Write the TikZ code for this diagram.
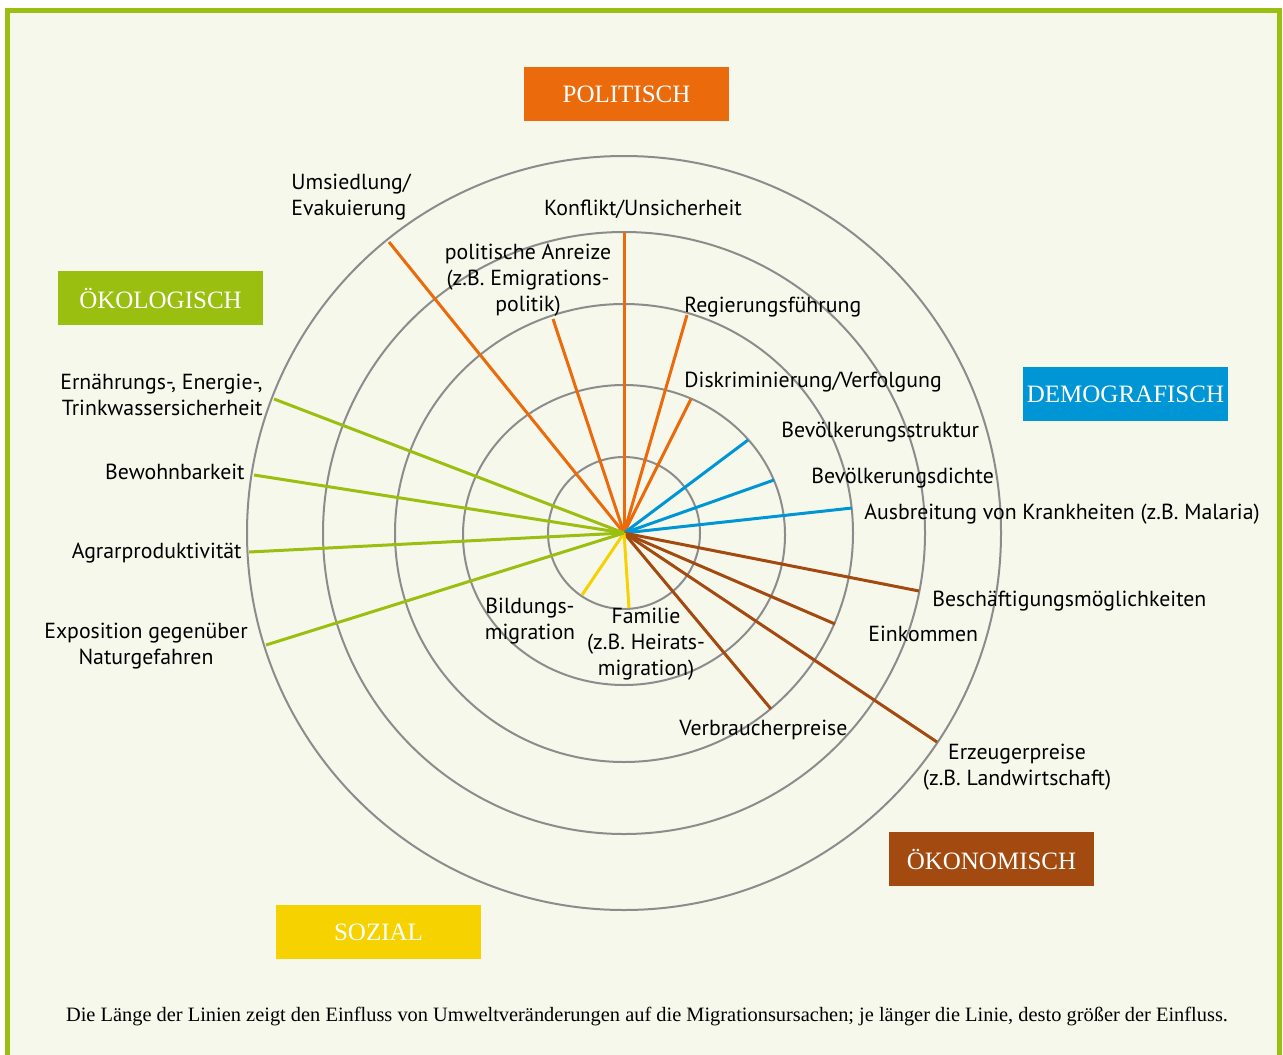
\documentclass[tikz,border=0pt]{standalone}
\usepackage{fontspec}
\setmainfont{Liberation Serif}
\newfontfamily\lblfont{PT Sans}

\definecolor{polcol}{HTML}{EA6A0C}
\definecolor{demcol}{HTML}{0096D6}
\definecolor{ekocol}{HTML}{A24A10}
\definecolor{sozcol}{HTML}{F6D200}
\definecolor{ecocol}{HTML}{9ABF10}
\definecolor{bgcol}{HTML}{F7F8EC}
\definecolor{ringcol}{HTML}{8C8C8C}

\tikzset{
  ring/.style={draw=ringcol, line width=1pt},
  spoke/.style={line width=1.5pt},
  lbl/.style={font=\lblfont\fontsize{10.9}{13}\selectfont, inner sep=0pt},
  catbox/.style={fill=#1, text=white, minimum width=102.5pt, minimum height=27pt,
    inner sep=0pt, font=\fontsize{12.5}{14}\selectfont},
}

\begin{document}
\begin{tikzpicture}[x=0.5pt, y=-0.5pt]
  \useasboundingbox (0,0) rectangle (1283,1054);
  \clip (0,0) rectangle (1283,1054);
  \fill[white] (0,0) rectangle (1283,1054);
  \filldraw[fill=bgcol, draw=ecocol, line width=2.5pt] (7.5,10.5) rectangle (1279.5,1100);

  % rings
  \coordinate (c) at (624,533);
  \draw[ring] (c) circle[radius=76];
  \draw[ring] (624,535) ellipse[x radius=161, y radius=150];
  \draw[ring] (c) circle[radius=229];
  \draw[ring] (c) circle[radius=301];
  \draw[ring] (c) circle[radius=377];

  % categories
  \draw (626.5,94)  node[catbox=polcol] (pol) {POLITISCH};
  \draw (160.5,298) node[catbox=ecocol] (eco) {ÖKOLOGISCH};
  \draw (1125.5,394) node[catbox=demcol] (dem) {DEMOGRAFISCH};
  \draw (991.5,859) node[catbox=ekocol] (eko) {ÖKONOMISCH};
  \draw (378.5,932) node[catbox=sozcol] (soz) {SOZIAL};

  % line ends
  \coordinate (umsied)  at (389,242);
  \coordinate (konfl)   at (624,232);
  \coordinate (anreiz)  at (553,319);
  \coordinate (regier)  at (687,315);
  \coordinate (diskr)   at (691,399);
  \coordinate (struktur) at (748,440);
  \coordinate (dichte)  at (774,480);
  \coordinate (krank)   at (852,508);
  \coordinate (besch)   at (919,591);
  \coordinate (einkom)  at (835,624);
  \coordinate (erzeug)  at (937,742);
  \coordinate (verbr)   at (771,709);
  \coordinate (bildung) at (582,595);
  \coordinate (familie) at (629,608);
  \coordinate (ernaehr) at (274,399);
  \coordinate (bewohn)  at (254,475);
  \coordinate (agrar)   at (249,552);
  \coordinate (exposit) at (266,645);

  \draw[spoke, polcol] (c) -- (umsied);
  \draw[spoke, polcol] (c) -- (konfl);
  \draw[spoke, polcol] (c) -- (anreiz);
  \draw[spoke, polcol] (c) -- (regier);
  \draw[spoke, polcol] (c) -- (diskr);
  \draw[spoke, demcol] (c) -- (struktur);
  \draw[spoke, demcol] (c) -- (dichte);
  \draw[spoke, demcol] (c) -- (krank);
  \draw[spoke, ekocol] (c) -- (besch);
  \draw[spoke, ekocol] (c) -- (einkom);
  \draw[spoke, ekocol] (c) -- (erzeug);
  \draw[spoke, ekocol] (c) -- (verbr);
  \draw[spoke, sozcol] (c) -- (bildung);
  \draw[spoke, sozcol] (c) -- (familie);
  \draw[spoke, ecocol] (c) -- (ernaehr);
  \draw[spoke, ecocol] (c) -- (bewohn);
  \draw[spoke, ecocol] (c) -- (agrar);
  \draw[spoke, ecocol] (c) -- (exposit);

  % labels
  \draw (291,197)  node[lbl, anchor=west, align=left] (umsiedL) {Umsiedlung/\\Evakuierung};
  \draw (643,215)  node[lbl, anchor=base] (konflL) {Konflikt/Unsicherheit};
  \draw (528,280)  node[lbl, align=center] (anreizL) {politische Anreize\\(z.B. Emigrations-\\politik)};
  \draw (684,312)  node[lbl, anchor=base west] (regierL) {Regierungsführung};
  \draw (684,387)  node[lbl, anchor=base west] (diskrL) {Diskriminierung/Verfolgung};
  \draw (781,437)  node[lbl, anchor=base west] (strukturL) {Bevölkerungsstruktur};
  \draw (811,483)  node[lbl, anchor=base west] (dichteL) {Bevölkerungsdichte};
  \draw (864,519)  node[lbl, anchor=base west] (krankL) {Ausbreitung von Krankheiten (z.B. Malaria)};
  \draw (932,606)  node[lbl, anchor=base west] (beschL) {Beschäftigungsmöglichkeiten};
  \draw (868,641)  node[lbl, anchor=base west] (einkomL) {Einkommen};
  \draw (1017,767) node[lbl, align=center] (erzeugL) {Erzeugerpreise\\(z.B. Landwirtschaft)};
  \draw (679,735)  node[lbl, anchor=base west] (verbrL) {Verbraucherpreise};
  \draw (530,621)  node[lbl, align=center] (bildungL) {Bildungs-\\migration};
  \draw (646,644)  node[lbl, align=center] (familieL) {Familie\\(z.B. Heirats-\\migration)};
  \draw (263,395)  node[lbl, anchor=east, align=right] (ernaehrL) {Ernährungs-, Energie-,\\Trinkwassersicherheit};
  \draw (245,479)  node[lbl, anchor=base east] (bewohnL) {Bewohnbarkeit};
  \draw (242,558)  node[lbl, anchor=base east] (agrarL) {Agrarproduktivität};
  \draw (146,646)  node[lbl, align=center] (expositL) {Exposition gegenüber\\Naturgefahren};

  \draw (647,1021) node[anchor=base, inner sep=0pt, font=\fontsize{10.2}{12}\selectfont] (note)
    {Die Länge der Linien zeigt den Einfluss von Umweltveränderungen auf die Migrationsursachen; je länger die Linie, desto größer der Einfluss.};
\end{tikzpicture}
\end{document}
